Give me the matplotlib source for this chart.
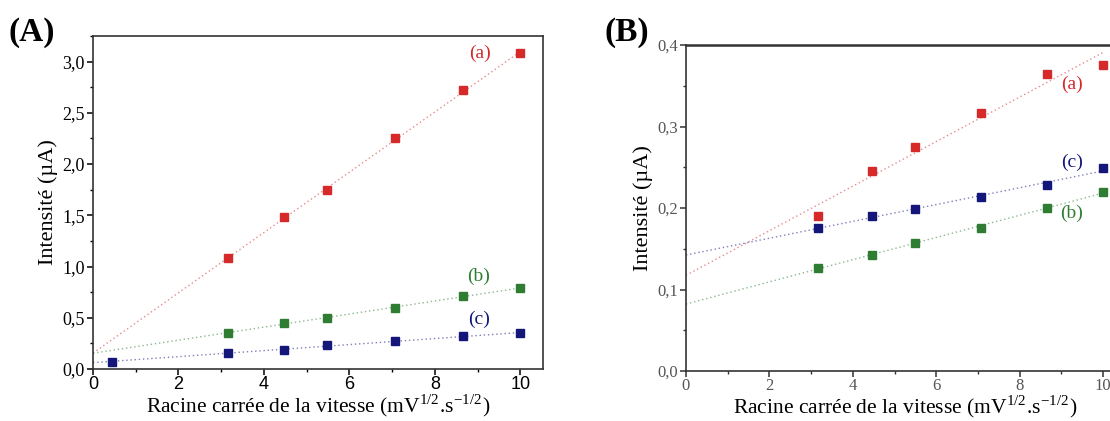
import numpy as np
import matplotlib
matplotlib.use("Agg")
import matplotlib.pyplot as plt
from matplotlib.ticker import MultipleLocator, FuncFormatter

plt.rcParams['font.family'] = ['Liberation Serif', 'DejaVu Serif']
plt.rcParams['mathtext.fontset'] = 'stix'

# ---- Data: panel A ----
xA_ab = [3.16, 4.47, 5.48, 7.07, 8.66, 10.0]
yA_a = [1.08, 1.48, 1.75, 2.25, 2.72, 3.08]
yA_b = [0.35, 0.45, 0.50, 0.60, 0.71, 0.79]
xA_c = [0.45, 3.16, 4.47, 5.48, 7.07, 8.66, 10.0]
yA_c = [0.07, 0.16, 0.19, 0.23, 0.27, 0.32, 0.35]

# ---- Data: panel B ----
xB = [3.16, 4.47, 5.48, 7.07, 8.66, 10.0]
yB_a = [0.190, 0.245, 0.275, 0.317, 0.364, 0.376]
yB_b = [0.127, 0.142, 0.157, 0.176, 0.200, 0.220]
yB_c = [0.175, 0.190, 0.199, 0.214, 0.228, 0.249]

series_labels = ['(a)', '(b)', '(c)']
RED, GREEN, BLUE = '#d62a2a', '#2e7d32', '#14167a'

fig = plt.figure(figsize=(11.1, 4.21), dpi=100)
axA = fig.add_axes([0.0838, 0.1235, 0.405, 0.791])
axB = fig.add_axes([0.618, 0.1188, 0.3945, 0.774])

comma = FuncFormatter(lambda v, p: f"{v:.1f}".replace('.', ','))
intfmt = FuncFormatter(lambda v, p: f"{int(v)}")

def draw(ax, x, y, color, fitx0=0.0):
    x = np.asarray(x); y = np.asarray(y)
    k, b = np.polyfit(x, y, 1)
    xf = np.linspace(fitx0, 10.0, 50)
    ax.plot(xf, k * xf + b, ls=(0, (1, 2)), lw=1.0, color=color, alpha=0.55)
    ax.plot(x, y, 's', ms=5.8, color=color, mec=color)

draw(axA, xA_ab, yA_a, RED)
draw(axA, xA_ab, yA_b, GREEN)
draw(axA, xA_c, yA_c, BLUE)
axA.set_xlim(0, 10.52)
axA.set_ylim(0, 3.25)
axA.xaxis.set_major_locator(MultipleLocator(2))
axA.xaxis.set_minor_locator(MultipleLocator(1))
axA.yaxis.set_major_locator(MultipleLocator(0.5))
axA.yaxis.set_minor_locator(MultipleLocator(0.25))
axA.yaxis.set_major_formatter(comma)
axA.xaxis.set_major_formatter(intfmt)
axA.text(9.3, 3.08, series_labels[0], color=RED, fontsize=14, ha='right', va='center')
axA.text(9.3, 0.9, series_labels[1], color=GREEN, fontsize=14, ha='right', va='center')
axA.text(9.3, 0.48, series_labels[2], color=BLUE, fontsize=14, ha='right', va='center')

draw(axB, xB, yB_a, RED)
draw(axB, xB, yB_b, GREEN)
draw(axB, xB, yB_c, BLUE)
axB.set_xlim(0, 10.5)
axB.set_ylim(0, 0.4)
axB.xaxis.set_major_locator(MultipleLocator(2))
axB.xaxis.set_minor_locator(MultipleLocator(1))
axB.yaxis.set_major_locator(MultipleLocator(0.1))
axB.yaxis.set_minor_locator(MultipleLocator(0.05))
axB.yaxis.set_major_formatter(comma)
axB.xaxis.set_major_formatter(intfmt)
axB.text(9.25, 0.352, series_labels[0], color=RED, fontsize=14, ha='center', va='center')
axB.text(9.25, 0.256, series_labels[2], color=BLUE, fontsize=14, ha='center', va='center')
axB.text(9.25, 0.193, series_labels[1], color=GREEN, fontsize=14, ha='center', va='center')

xlabel = r'Racine carrée de la vitesse (mV$^{\mathregular{1/2}}$.s$^{\mathregular{-1/2}}$)'
for ax in (axA, axB):
    ax.set_xlabel(xlabel, fontsize=15.5, labelpad=0)
    ax.set_ylabel('Intensité (µA)', fontsize=16, labelpad=3)
    ax.tick_params(which='both', direction='out', top=False, right=False, labelsize=13, pad=2)
    ax.tick_params(axis='x', pad=1)
    ax.tick_params(which='major', length=4, width=1.1)
    ax.tick_params(which='minor', length=2.5, width=1.0)
    for s in ax.spines.values():
        s.set_linewidth(1.2)
        s.set_color('#333333')
axB.spines['top'].set_linewidth(1.8)
for lab in axA.get_xticklabels():
    lab.set_family(['Liberation Sans', 'DejaVu Sans'])
axB.tick_params(labelsize=12, colors='#555555')
axB.tick_params(axis='both', which='both', color='#333333')

fig.text(0.008, 0.96, '(A)', fontsize=24, fontweight='bold', va='top', ha='left')
fig.text(0.545, 0.96, '(B)', fontsize=24, fontweight='bold', va='top', ha='left')

fig.savefig('out.png', dpi=100)
